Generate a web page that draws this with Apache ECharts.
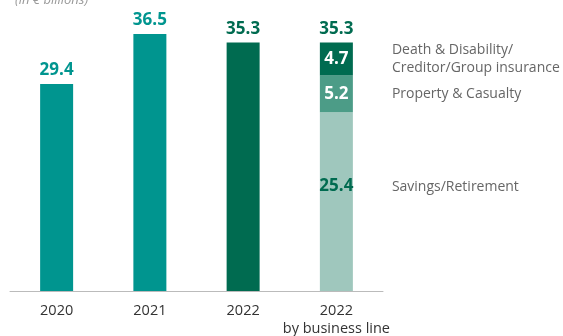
<!DOCTYPE html>
<html>
<head>
<meta charset="utf-8">
<script src="https://cdn.jsdelivr.net/npm/echarts@6/dist/echarts.min.js"></script>
<style>html,body{margin:0;padding:0;background:#fff;}#c{width:563px;height:336px;}</style>
</head>
<body>
<div id="c"></div>
<script>
var categories = ['2020', '2021', '2022', '2022\nby business line'];
var totals = [29.4, 36.5, 35.3, '-'];
var savings = ['-', '-', '-', 25.4];
var property = ['-', '-', '-', 5.2];
var death = ['-', '-', '-', 4.7];
var stackTotal = 35.3;
var lineNames = ['Death & Disability/\nCreditor/Group insurance', 'Property & Casualty', 'Savings/Retirement'];
var subtitle = '(in € billions)';

var TEAL = '#00958F', DARK = '#006B50', MED = '#4C9C87', LIGHT = '#9FC7BD';
var FONT = 'Open Sans';
var totalColors = [TEAL, TEAL, DARK, TEAL];

var chart = echarts.init(document.getElementById('c'));
var barW = 33;
var numFont = {fontSize: 17, fontWeight: 'bold', fontFamily: FONT};
var option = {
  animation: false,
  textStyle: {fontFamily: FONT},
  grid: {left: 10, right: 180, top: 9.4, bottom: 45, containLabel: false, outerBoundsMode: 'none'},
  xAxis: {
    type: 'category', data: categories, offset: 6,
    axisLine: {lineStyle: {color: '#bbbbbb', width: 1}},
    axisTick: {show: false},
    axisLabel: {interval: 0, color: '#333', fontSize: 14.5, fontFamily: FONT, margin: 5, lineHeight: 18}
  },
  yAxis: {type: 'value', min: 0, max: 40, show: false, splitLine: {show: false}},
  series: [
    {
      type: 'bar', name: 'total', barWidth: barW, barGap: '-100%',
      data: totals.map(function (v, i) {
        return {value: v, itemStyle: {color: totalColors[i]},
          label: {color: totalColors[i]}};
      }),
      label: Object.assign({show: true, position: 'top', distance: 5}, numFont)
    },
    {
      type: 'bar', name: 'Savings/Retirement', stack: 'bl', barWidth: barW,
      data: savings, itemStyle: {color: LIGHT},
      label: Object.assign({show: true, position: 'inside', offset: [0, -15], color: DARK}, numFont)
    },
    {
      type: 'bar', name: 'Property & Casualty', stack: 'bl', barWidth: barW,
      data: property, itemStyle: {color: MED},
      label: Object.assign({show: true, position: 'inside', color: '#fff'}, numFont)
    },
    {
      type: 'bar', name: 'Death & Disability', stack: 'bl', barWidth: barW,
      data: death, itemStyle: {color: DARK},
      label: Object.assign({show: true, position: 'inside', color: '#fff'}, numFont)
    },
    {
      type: 'bar', name: 'stackTotal', stack: 'bl', barWidth: barW,
      data: ['-', '-', '-', 0], itemStyle: {color: 'transparent'},
      label: Object.assign({show: true, position: 'top', distance: 5, color: DARK,
        formatter: function () { return stackTotal.toFixed(1); }}, numFont)
    }
  ]
};
chart.setOption(option);

// side labels for business lines
var cat = categories[3];
var xRight = chart.convertToPixel({xAxisIndex: 0}, cat) + barW / 2 + 39;
var midD = chart.convertToPixel({yAxisIndex: 0}, savings[3] + property[3] + death[3] / 2);
var midP = chart.convertToPixel({yAxisIndex: 0}, savings[3] + property[3] / 2);
var midS = chart.convertToPixel({yAxisIndex: 0}, savings[3] / 2) - 15;
var sideStyle = {fill: '#666', fontSize: 14, fontFamily: FONT, lineHeight: 18, verticalAlign: 'middle', align: 'left'};
function sideText(txt, y) {
  return {type: 'text', x: xRight, y: y, style: Object.assign({text: txt}, sideStyle)};
}
chart.setOption({
  graphic: [
    sideText(lineNames[0], midD),
    sideText(lineNames[1], midP),
    sideText(lineNames[2], midS),
    {type: 'text', x: 15, y: -6, style: {text: subtitle, fill: '#999', fontSize: 13, fontStyle: 'italic', fontFamily: FONT}}
  ]
});
</script>
</body>
</html>
